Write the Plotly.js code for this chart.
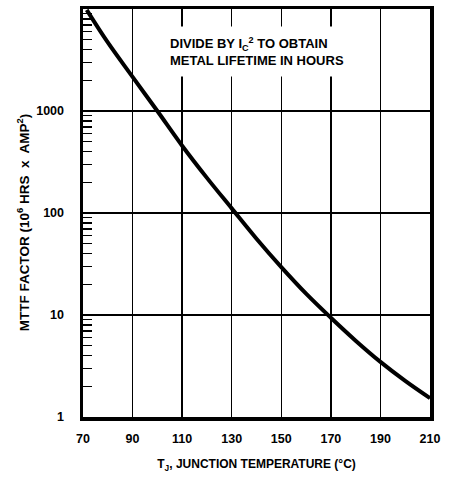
<!DOCTYPE html>
<html>
<head>
<meta charset="utf-8">
<script src="https://cdn.plot.ly/plotly-3.0.1.min.js"></script>
<style>html,body{margin:0;padding:0;background:#fff;}#chart{width:449px;height:478px;}</style>
</head>
<body>
<div id="chart"></div>
<script>
// Junction temperature (°C)
var tempC = [71.5, 80, 90, 100, 110, 120, 130, 140, 150, 160, 170, 180, 190, 200, 210];
// MTTF factor (10^6 hrs x amp^2)
var mttf = [9800, 4700, 2160, 1000, 457, 221, 111, 56, 29.5, 16.2, 9.4, 5.6, 3.47, 2.26, 1.53];

var xTickVals = [70, 90, 110, 130, 150, 170, 190, 210];
var yTickVals = [1, 10, 100, 1000];
var yTickText = ['1', '10', '100', '1000'];
var yMinorVals = [2,3,4,5,6,7,8,9,20,30,40,50,60,70,80,90,200,300,400,500,600,700,800,900,2000,3000,4000,5000,6000,7000,8000,9000];

var FONT = '"Liberation Sans", Arial, sans-serif';

var trace = {
  x: tempC, y: mttf, type: 'scatter', mode: 'lines',
  line: {color: '#000', width: 4, shape: 'spline', smoothing: 1},
  hoverinfo: 'skip'
};

var layout = {
  width: 449, height: 478,
  margin: {l: 83, r: 19, t: 9, b: 61},
  paper_bgcolor: '#fff', plot_bgcolor: '#fff',
  showlegend: false,
  font: {family: FONT, color: '#000', size: 12},
  xaxis: {
    range: [70, 210], tickmode: 'array', tickvals: xTickVals,
    ticks: '', showgrid: true, gridcolor: '#000', gridwidth: 1.4,
    showline: true, linecolor: '#000', linewidth: 3.5, mirror: true,
    zeroline: false, ticklabelstandoff: 7,
    tickfont: {family: FONT, size: 12.5, color: '#000', weight: 'bold'},
    title: {text: 'T<sub>J</sub>, JUNCTION TEMPERATURE (°C)', standoff: 16,
            font: {family: FONT, size: 12, color: '#000', weight: 'bold'}}
  },
  yaxis: {
    type: 'log', range: [0, 4], tickmode: 'array', tickvals: yTickVals, ticktext: yTickText,
    ticks: '', showgrid: true, gridcolor: '#000', gridwidth: 1.4,
    showline: true, linecolor: '#000', linewidth: 3.5, mirror: true,
    zeroline: false, ticklabelstandoff: 13,
    tickfont: {family: FONT, size: 12.5, color: '#000', weight: 'bold'},
    minor: {tickmode: 'array', tickvals: yMinorVals, ticks: 'inside', ticklen: 9,
            tickwidth: 1.5, tickcolor: '#000', showgrid: false}
  },
  annotations: [{
    xref: 'paper', yref: 'paper', x: 0.502, y: 0.895, xanchor: 'center', yanchor: 'middle',
    text: 'DIVIDE BY I<sub>C</sub><sup>2</sup> TO OBTAIN<br>METAL LIFETIME IN HOURS',
    showarrow: false, align: 'left', bgcolor: '#fff', borderpad: 8,
    font: {family: FONT, size: 13, color: '#000', weight: 'bold'}
  }, {
    xref: 'paper', yref: 'paper', x: -0.172, y: 0.478, xanchor: 'center', yanchor: 'middle',
    textangle: -90,
    text: 'MTTF FACTOR (10<sup>6</sup> HRS  x  AMP<sup>2</sup>)',
    showarrow: false,
    font: {family: FONT, size: 13.5, color: '#000', weight: 'bold'}
  }]
};

Plotly.newPlot('chart', [trace], layout, {displayModeBar: false, staticPlot: true});
</script>
</body>
</html>
